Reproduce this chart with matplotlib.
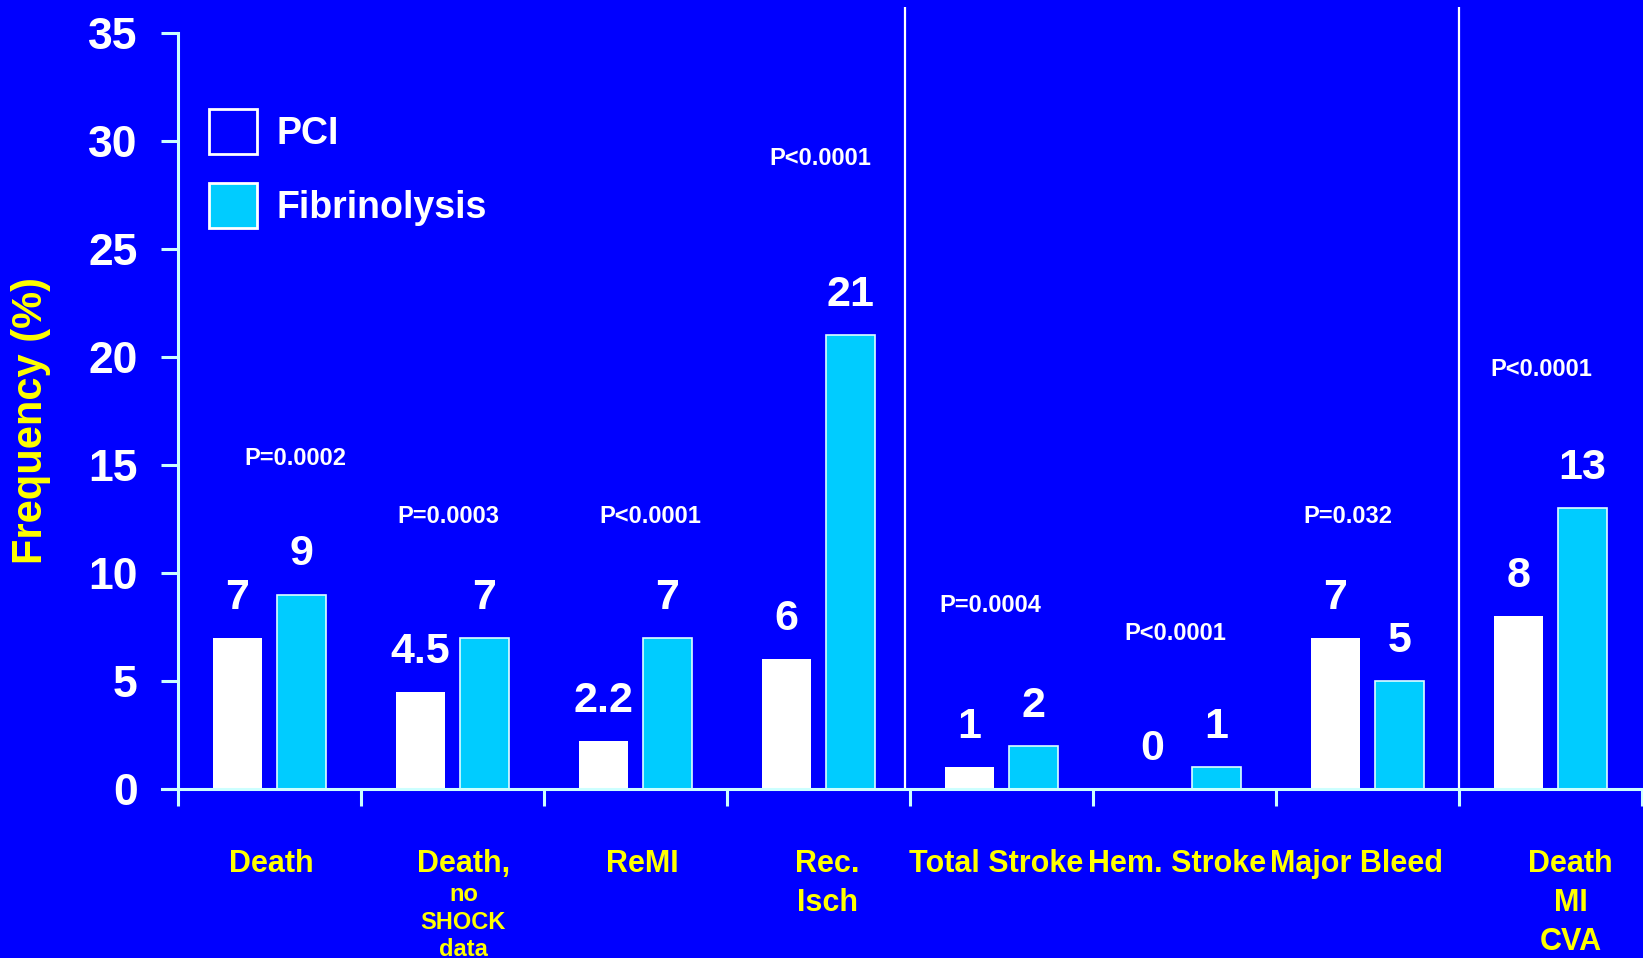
import matplotlib
matplotlib.use('Agg')
import matplotlib.pyplot as plt
from matplotlib.patches import Patch
import numpy as np

plt.rcParams['font.family'] = ['Liberation Sans', 'DejaVu Sans']
plt.rcParams['font.weight'] = 'bold'

# Data
categories = ['Death', 'Death,', 'ReMI', 'Rec.\nIsch', 'Total Stroke',
              'Hem. Stroke', 'Major Bleed', 'Death\nMI\nCVA']
sublabels = ['', 'no\nSHOCK\ndata', '', '', '', '', '', '']
pci = [7, 4.5, 2.2, 6, 1, 0, 7, 8]
fib = [9, 7, 7, 21, 2, 1, 5, 13]
pci_text = ['7', '4.5', '2.2', '6', '1', '0', '7', '8']
fib_text = ['9', '7', '7', '21', '2', '1', '5', '13']
p_values = ['P=0.0002', 'P=0.0003', 'P<0.0001', 'P<0.0001',
            'P=0.0004', 'P<0.0001', 'P=0.032', 'P<0.0001']
yticks = [0, 5, 10, 15, 20, 25, 30, 35]

# text placement (p-value height in %, shifts from group centre)
p_y = [15.3, 12.6, 12.6, 29.2, 8.5, 7.2, 12.6, 19.4]
p_dx = [0.14, -0.02, 0.08, 0.01, -0.06, -0.05, -0.11, -0.05]
lab_dx = [0.01, 0.06, 0.04, 0.05, -0.03, -0.04, -0.06, 0.11]

blue = '#0000FF'
cyan = '#00CCFF'
axis_col = '#CCFFFF'
yellow = '#FFFF00'

fig = plt.figure(figsize=(16.43, 9.58), dpi=100, facecolor=blue)
ax = fig.add_axes([162 / 1643, 169 / 958, 1 - 162 / 1643, 782 / 958])
ax.set_facecolor(blue)

x = np.arange(len(categories))
w = 0.265
ax.bar(x - 0.175, pci, w, color='white', zorder=2)
ax.bar(x + 0.175, fib, w, color=cyan, edgecolor='#DDFFFF', linewidth=1.2, zorder=2)

# value labels and p-values
for i in range(len(x)):
    ax.annotate(pci_text[i], (x[i] - 0.175, pci[i]), xytext=(0, 21),
                textcoords='offset points', ha='center', va='baseline',
                color='white', fontsize=31, fontweight='bold')
    ax.annotate(fib_text[i], (x[i] + 0.175, fib[i]), xytext=(0, 21),
                textcoords='offset points', ha='center', va='baseline',
                color='white', fontsize=31, fontweight='bold')
    ax.text(x[i] + p_dx[i], p_y[i], p_values[i], ha='center', va='center',
            color='white', fontsize=17, fontweight='bold')

# separators
ax.axvline(3.475, color='white', lw=1.6, zorder=1)
ax.axvline(6.5, color='white', lw=1.6, zorder=1)

# axes
ax.set_xlim(-0.587, 7.505)
ax.set_ylim(0, 36.2)
ax.spines['top'].set_visible(False)
ax.spines['right'].set_visible(False)
ax.spines['left'].set_position(('data', -0.5))
ax.spines['left'].set_bounds(0, 35)
for s in ['left', 'bottom']:
    ax.spines[s].set_color(axis_col)
    ax.spines[s].set_linewidth(2.2)
    ax.spines[s].set_zorder(3)
ax.set_yticks(yticks)
ax.set_yticklabels([str(t) for t in yticks], fontsize=32, fontweight='bold', color='white')
ax.set_xticks(np.arange(-0.5, len(categories), 1.0))
ax.set_xticklabels([])
ax.tick_params(axis='both', direction='out', length=12, width=2.2, color=axis_col)
ax.tick_params(axis='y', pad=17)

# category labels
for i in range(len(x)):
    ax.annotate(categories[i], (x[i] + lab_dx[i], 0), xytext=(0, -43.2),
                textcoords='offset points', ha='center', va='top',
                color=yellow, fontsize=22, fontweight='bold',
                linespacing=1.39, annotation_clip=False)
    if sublabels[i]:
        ax.annotate(sublabels[i], (x[i] + lab_dx[i], 0), xytext=(0, -67.7),
                    textcoords='offset points', ha='center', va='top',
                    color=yellow, fontsize=17, fontweight='bold',
                    linespacing=1.25, annotation_clip=False)

fig.text(31 / 1643, 1 - 420 / 958, 'Frequency (%)', rotation=90, ha='center',
         va='center', color=yellow, fontsize=30, fontweight='bold')

handles = [Patch(facecolor=blue, edgecolor='white', linewidth=2, label='PCI'),
           Patch(facecolor=cyan, edgecolor='white', linewidth=2, label='Fibrinolysis')]
leg = ax.legend(handles=handles, loc='upper left', bbox_to_anchor=(0.0317, 0.8696),
                frameon=False, borderpad=0, borderaxespad=0, fontsize=27,
                handlelength=1.28, handleheight=1.47, handletextpad=0.53,
                labelspacing=0.78)
for t in leg.get_texts():
    t.set_color('white')
    t.set_fontweight('bold')

fig.savefig('out.png', dpi=100, facecolor=blue)
